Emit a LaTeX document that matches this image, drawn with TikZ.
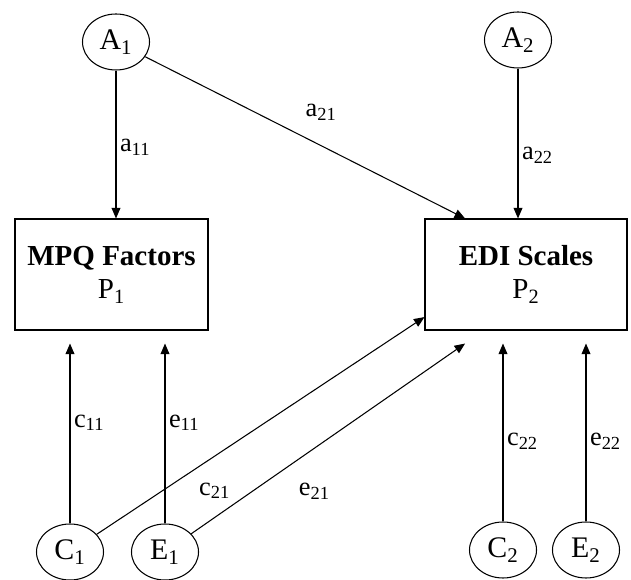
\documentclass[tikz,border=0pt]{standalone}
\usepackage{fontspec}
\setmainfont{Liberation Serif}
\usetikzlibrary{arrows.meta, positioning, shapes.geometric, calc}

\begin{document}
\begin{tikzpicture}[
  latent/.style={ellipse, draw, line width=0.6pt, minimum width=1.34cm,
                 minimum height=1.12cm, inner sep=0pt,
                 font=\fontsize{17}{20}\selectfont},
  measure/.style={rectangle, draw, line width=0.6pt, minimum width=#1,
                  minimum height=2.22cm, align=center,
                  font=\fontsize{16.5}{19}\selectfont},
  link/.style={-{Triangle[length=6pt, width=5pt]}, line width=0.6pt},
  coef/.style={font=\fontsize{15}{18}\selectfont, inner sep=2pt}
]
\useasboundingbox (0,0) rectangle (12.62,11.58);

% Additive genetic factors
\node[latent] (A1) at (2.32,10.74) {A\textsubscript{1}};
\node[latent] (A2) at (10.36,10.78) {A\textsubscript{2}};

% Phenotypes
\node[measure=3.86cm] (P1) at (2.23,6.09) {\textbf{MPQ Factors}\\P\textsubscript{1}};
\node[measure=4.04cm] (P2) at (10.52,6.09) {\textbf{EDI Scales}\\P\textsubscript{2}};

% Shared and unique environment
\node[latent] (C1) at (1.40,0.54) {C\textsubscript{1}};
\node[latent] (E1) at (3.30,0.54) {E\textsubscript{1}};
\node[latent] (C2) at (10.06,0.58) {C\textsubscript{2}};
\node[latent] (E2) at (11.72,0.58) {E\textsubscript{2}};

% Arrow ends on the boxes
\coordinate (a21end) at ($(P2.north west)!0.2!(P2.north east)$);
\coordinate (c21end) at ($(P2.north west)!0.88!(P2.south west)$);
\coordinate (e21end) at ($(P2.south west)!0.2!(P2.south east)+(0,-0.26)$);
\coordinate (c11end) at ($(C1 |- P1.south)+(0,-0.26)$);
\coordinate (e11end) at ($(E1 |- P1.south)+(0,-0.26)$);
\coordinate (c22end) at ($(C2 |- P2.south)+(0,-0.26)$);
\coordinate (e22end) at ($(E2 |- P2.south)+(0,-0.26)$);

% Genetic paths
\draw[link] (A1) -- node[coef, pos=0.52, right] (la11) {a\textsubscript{11}} (A1 |- P1.north);
\draw[link] (A1) -- node[coef, pos=0.55, above=0.42cm] (la21) {a\textsubscript{21}} (a21end);
\draw[link] (A2) -- node[coef, pos=0.58, right] (la22) {a\textsubscript{22}} (A2 |- P2.north);

% Environmental paths
\draw[link] (C1) -- node[coef, pos=0.56, right] (lc11) {c\textsubscript{11}} (c11end);
\draw[link] (E1) -- node[coef, pos=0.56, right] (le11) {e\textsubscript{11}} (e11end);
\draw[link] (C1) -- node[coef, pos=0.36, below=0.45cm] (lc21) {c\textsubscript{21}} (c21end);
\draw[link] (E1) -- node[coef, pos=0.45, below=0.62cm] (le21) {e\textsubscript{21}} (e21end);
\draw[link] (C2) -- node[coef, pos=0.45, right] (lc22) {c\textsubscript{22}} (c22end);
\draw[link] (E2) -- node[coef, pos=0.45, right] (le22) {e\textsubscript{22}} (e22end);

\end{tikzpicture}
\end{document}
